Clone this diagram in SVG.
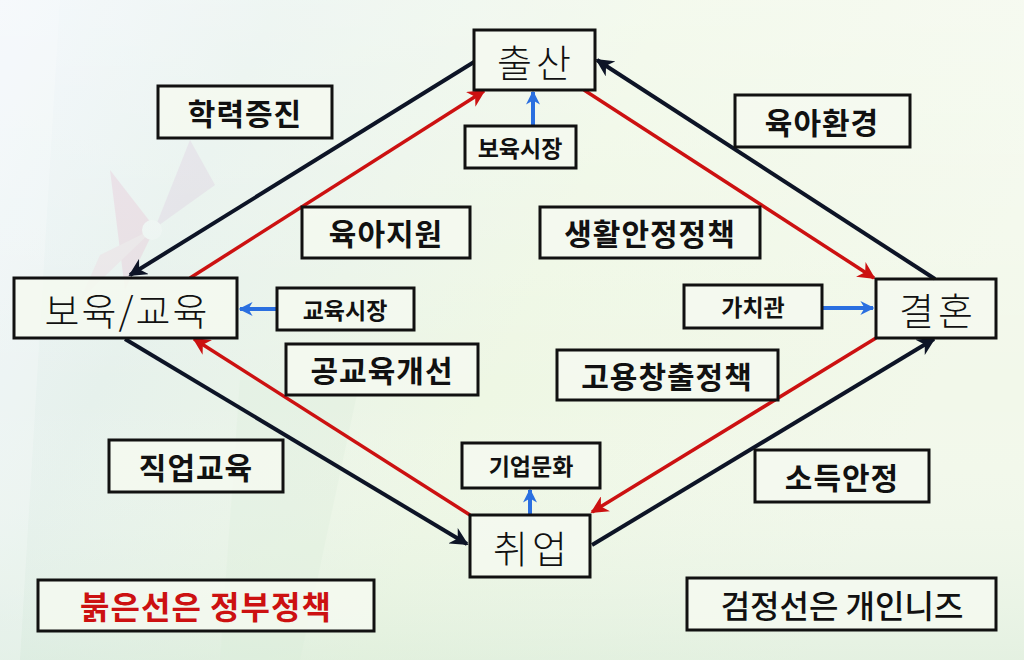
<svg xmlns="http://www.w3.org/2000/svg" width="1024" height="660" viewBox="0 0 1024 660">
<defs>
<linearGradient id="bg" x1="0" y1="0" x2="1" y2="0.3">
<stop offset="0" stop-color="#eef4fa"/>
<stop offset="0.25" stop-color="#e6f1ec"/>
<stop offset="0.6" stop-color="#eef7e4"/>
<stop offset="1" stop-color="#f2f8ea"/>
</linearGradient>
<linearGradient id="bg2" x1="0" y1="0" x2="0" y2="1">
<stop offset="0" stop-color="#ffffff" stop-opacity="0.35"/>
<stop offset="0.6" stop-color="#ffffff" stop-opacity="0"/>
<stop offset="1" stop-color="#cfe6d4" stop-opacity="0.4"/>
</linearGradient>
<marker id="ak" viewBox="0 0 10 10" refX="9" refY="5" markerWidth="4.5" markerHeight="4.5" orient="auto" markerUnits="strokeWidth"><path d="M0,0 L10,5 L0,10 L3,5 Z" fill="#0d1426"/></marker>
<marker id="ar" viewBox="0 0 10 10" refX="9" refY="5" markerWidth="5" markerHeight="5" orient="auto" markerUnits="strokeWidth"><path d="M0,0 L10,5 L0,10 L3,5 Z" fill="#cc1111"/></marker>
<marker id="ab" viewBox="0 0 10 10" refX="9" refY="5" markerWidth="3.5" markerHeight="3.5" orient="auto" markerUnits="strokeWidth"><path d="M0,0 L10,5 L0,10 L3,5 Z" fill="#2a6fe0"/></marker>
<style>
.box{fill:#f5f9f0;fill-opacity:0.85;stroke:#111;stroke-width:3}
.big{font-family:"Noto Sans CJK KR","Noto Sans",sans-serif;font-size:38px;font-weight:300;fill:#111;text-anchor:middle;dominant-baseline:central}
.lab{font-family:"Noto Sans CJK KR","Noto Sans",sans-serif;font-size:30px;font-weight:bold;fill:#111;text-anchor:middle;dominant-baseline:central;letter-spacing:1px}
.sm{font-family:"Noto Sans CJK KR","Noto Sans",sans-serif;font-size:23px;font-weight:bold;fill:#111;text-anchor:middle;dominant-baseline:central}
.k{stroke:#0d1426;stroke-width:4;fill:none;marker-end:url(#ak)}
.r{stroke:#cc1111;stroke-width:3.5;fill:none;marker-end:url(#ar)}
.b{stroke:#2a6fe0;stroke-width:4;fill:none;marker-end:url(#ab)}
</style>
</defs>
<rect width="1024" height="660" fill="url(#bg)"/>
<rect width="1024" height="660" fill="url(#bg2)"/>
<g opacity="0.22">
<path d="M110,170 L155,228 L125,290 Z" fill="#e7a6c4"/>
<path d="M155,228 L215,185 L190,140 Z" fill="#d8b6d8"/>
<path d="M155,228 L100,255 L80,300 Z" fill="#f0c6d6"/>
<circle cx="152" cy="230" r="10" fill="#fff"/>
<path d="M240,480 L290,520 L250,560 Z" fill="#c8c8d8"/>
<path d="M0,0 L60,0 L20,660 L0,660 Z" fill="#ffffff"/>
<path d="M240,380 L360,380 L300,660 L220,660 Z" fill="#d8ecd8"/>
</g>
<g id="connectors">
<line class="k" x1="474" y1="62" x2="130" y2="275"/>
<line class="k" x1="125" y1="339" x2="467" y2="544"/>
<line class="k" x1="592" y1="545" x2="934" y2="339"/>
<line class="k" x1="935" y1="279" x2="597" y2="60"/>
<line class="r" x1="190" y1="278" x2="484" y2="91"/>
<line class="r" x1="584" y1="90" x2="874" y2="278"/>
<line class="r" x1="876" y1="338" x2="592" y2="512"/>
<line class="r" x1="470" y1="515" x2="194" y2="339"/>
<line class="b" x1="533" y1="126" x2="533" y2="92"/>
<line class="b" x1="277" y1="309" x2="240" y2="309"/>
<line class="b" x1="822" y1="308" x2="873" y2="308"/>
<line class="b" x1="530" y1="515" x2="530" y2="490"/>
</g>
<g id="n-chulsan"><rect class="box" x="474" y="30" width="121" height="60"/><text class="big" x="536" y="60" letter-spacing="4">출산</text></g>
<g id="n-boyuksijang"><rect class="box" x="465" y="126" width="111" height="42"/><text class="sm" x="520" y="147">보육시장</text></g>
<g id="n-hakryeok"><rect class="box" x="158" y="86" width="174" height="52"/><text class="lab" x="245" y="112">학력증진</text></g>
<g id="n-yukahwan"><rect class="box" x="735" y="95" width="175" height="52"/><text class="lab" x="822" y="121">육아환경</text></g>
<g id="n-yukajiwon"><rect class="box" x="302" y="207" width="168" height="51"/><text class="lab" x="386" y="232">육아지원</text></g>
<g id="n-saenghwal"><rect class="box" x="540" y="207" width="220" height="51"/><text class="lab" x="650" y="232">생활안정정책</text></g>
<g id="n-boyuk"><rect class="box" x="14" y="278" width="223" height="60"/><text class="big" x="127" y="308" letter-spacing="2">보육/교육</text></g>
<g id="n-gyoyuksijang"><rect class="box" x="277" y="288" width="137" height="42"/><text class="sm" x="345" y="309">교육시장</text></g>
<g id="n-gachi"><rect class="box" x="684" y="285" width="138" height="43"/><text class="sm" x="753" y="306">가치관</text></g>
<g id="n-gyeolhon"><rect class="box" x="876" y="279" width="120" height="59"/><text class="big" x="938" y="308" letter-spacing="4">결혼</text></g>
<g id="n-gonggyoyuk"><rect class="box" x="286" y="344" width="192" height="51"/><text class="lab" x="382" y="369">공교육개선</text></g>
<g id="n-goyong"><rect class="box" x="557" y="350" width="221" height="50"/><text class="lab" x="667" y="375">고용창출정책</text></g>
<g id="n-jigeop"><rect class="box" x="109" y="440" width="174" height="52"/><text class="lab" x="196" y="466">직업교육</text></g>
<g id="n-gieop"><rect class="box" x="462" y="443" width="138" height="45"/><text class="sm" x="531" y="465">기업문화</text></g>
<g id="n-sodeuk"><rect class="box" x="755" y="450" width="174" height="52"/><text class="lab" x="842" y="476">소득안정</text></g>
<g id="n-chwieop"><rect class="box" x="470" y="515" width="120" height="62"/><text class="big" x="532" y="546" letter-spacing="4">취업</text></g>
<g id="legend-red"><rect class="box" x="38" y="580" width="336" height="51"/><text class="lab" x="206" y="605" style="fill:#cc1111;font-size:32px">붉은선은 정부정책</text></g>
<g id="legend-black"><rect class="box" x="687" y="578" width="309" height="52"/><text class="lab" x="842" y="604" style="font-weight:500;font-size:32px;letter-spacing:0">검정선은 개인니즈</text></g>
</svg>
